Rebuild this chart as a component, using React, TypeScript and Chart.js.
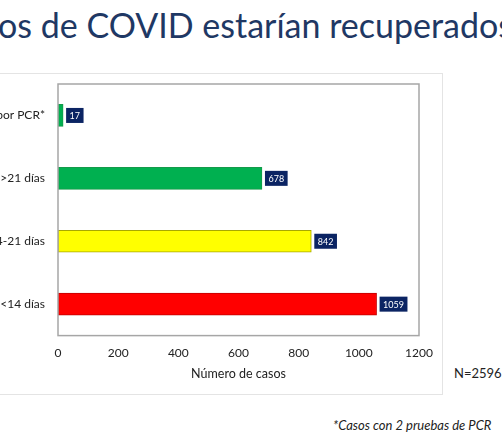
import React, { useEffect, useRef } from "react";
import { Chart, registerables } from "chart.js";

Chart.register(...registerables);

const categories = ["Negativos por PCR*", "Recuperados >21 días", "14-21 días", "<14 días"];
const values = [17, 678, 842, 1059];
const barColors = ["#00B050", "#00B050", "#FFFF00", "#FF0000"];
const barBorders = ["#149A4A", "#149A4A", "#A8A800", "#C00000"];
const xTicks = [0, 200, 400, 600, 800, 1000, 1200];

const FONT = "Lato, 'Open Sans', sans-serif";

const framePlugin = {
  id: "plotFrame",
  afterDraw(chart: any) {
    const { ctx, chartArea } = chart;
    ctx.save();
    ctx.strokeStyle = "#A6A6A6";
    ctx.lineWidth = 1.5;
    ctx.strokeRect(chartArea.left, chartArea.top, chartArea.right - chartArea.left, chartArea.bottom - chartArea.top);
    ctx.restore();
  },
};

const labelPlugin = {
  id: "valueBoxes",
  afterDatasetsDraw(chart: any) {
    const { ctx } = chart;
    const meta = chart.getDatasetMeta(0);
    ctx.save();
    ctx.font = `9px ${FONT}`;
    ctx.textBaseline = "middle";
    ctx.textAlign = "left";
    meta.data.forEach((el: any, i: number) => {
      const txt = String(chart.data.datasets[0].data[i]);
      const w = ctx.measureText(txt).width + 7;
      const h = 15;
      const x = el.x + 3;
      const y = el.y - h / 2;
      ctx.fillStyle = "#0B2463";
      ctx.fillRect(x, y, w, h);
      ctx.fillStyle = "#FFFFFF";
      ctx.fillText(txt, x + 3.5, el.y + 0.5);
    });
    ctx.restore();
  },
};

export default function App() {
  const ref = useRef<HTMLCanvasElement | null>(null);
  useEffect(() => {
    if (!ref.current) return;
    const chart = new Chart(ref.current, {
      type: "bar",
      data: {
        labels: categories,
        datasets: [
          {
            data: values,
            backgroundColor: barColors,
            borderColor: barBorders,
            borderWidth: 1,
            borderSkipped: false,
            barThickness: 22,
          },
        ],
      },
      options: {
        indexAxis: "y",
        animation: false,
        responsive: false,
        layout: { padding: { left: 0, right: 26, top: 11, bottom: 4 } },
        plugins: { legend: { display: false }, tooltip: { enabled: false } },
        scales: {
          x: {
            min: 0,
            max: 1200,
            afterBuildTicks: (scale: any) => {
              scale.ticks = xTicks.map((v) => ({ value: v }));
            },
            grid: { display: false, drawTicks: false },
            border: { display: false },
            ticks: {
              color: "#222",
              font: { family: FONT, size: 12 },
              padding: 10,
              maxRotation: 0,
              callback: (v: any) => String(v),
            },
            title: {
              display: true,
              text: "Número de casos",
              color: "#222",
              font: { family: FONT, size: 12.5 },
              padding: { top: -4, bottom: 10 },
            },
          },
          y: {
            grid: { display: false, drawTicks: false },
            border: { display: false },
            ticks: { color: "#222", font: { family: FONT, size: 12 }, padding: 13 },
            afterFit: (scale: any) => {
              scale.width = 158;
              scale.paddingTop = 0;
              scale.paddingBottom = 0;
            },
          },
        },
      },
      plugins: [framePlugin, labelPlugin],
    } as any);
    return () => chart.destroy();
  }, []);

  return (
    <div
      style={{
        position: "absolute",
        left: 0,
        top: 0,
        width: 502,
        height: 435,
        overflow: "hidden",
        background: "#fff",
        fontFamily: FONT,
      }}
    >
      <div
        style={{
          position: "absolute",
          left: -2,
          top: 5,
          whiteSpace: "nowrap",
          fontSize: 34,
          color: "#1F3864",
          lineHeight: "40px",
        }}
      >
        os de COVID estarían recuperados
      </div>
      <div
        style={{
          position: "absolute",
          left: -2,
          top: 73,
          width: 445,
          height: 322,
          border: "1px solid #E4E4E4",
          boxSizing: "border-box",
        }}
      />
      <div style={{ position: "absolute", left: -100, top: 73, width: 545, height: 322 }}>
        <canvas ref={ref} width={545} height={322} />
      </div>
      <div style={{ position: "absolute", left: 454, top: 365, fontSize: 13, color: "#222", whiteSpace: "nowrap" }}>
        N=2596
      </div>
      <div
        style={{
          position: "absolute",
          left: 333,
          top: 417,
          fontSize: 13,
          fontStyle: "italic",
          color: "#222",
          whiteSpace: "nowrap",
        }}
      >
        *Casos con 2 pruebas de PCR
      </div>
    </div>
  );
}
